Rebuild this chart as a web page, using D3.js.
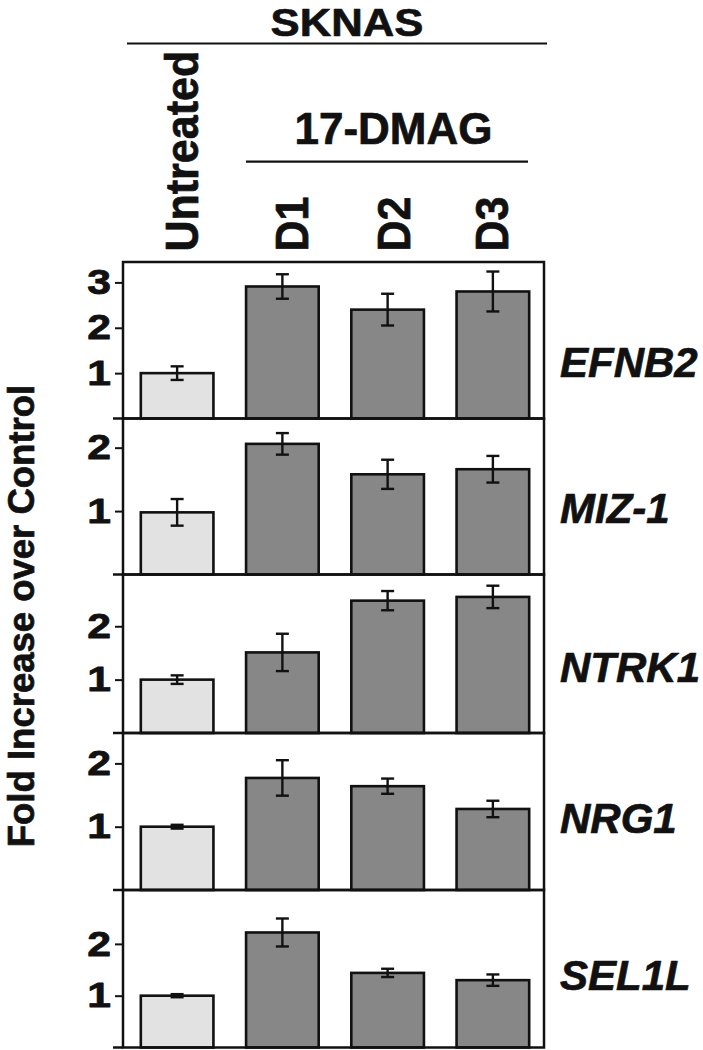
<!DOCTYPE html>
<html><head><meta charset="utf-8">
<script src="https://cdn.jsdelivr.net/npm/d3@7"></script>
<style>body{margin:0;background:#fff}svg{display:block}</style>
</head><body><svg id="c" width="703" height="1050"></svg>
<script>
// ---- data ----
const categories = ["Untreated", "D1", "D2", "D3"];
const genes = ["EFNB2", "MIZ-1", "NTRK1", "NRG1", "SEL1L"];
const meanEFNB2 = [1.00, 2.91, 2.40, 2.80];
const errEFNB2  = [0.15, 0.27, 0.35, 0.44];
const meanMIZ1  = [0.98, 2.06, 1.58, 1.66];
const errMIZ1   = [0.21, 0.17, 0.23, 0.21];
const meanNTRK1 = [1.00, 1.51, 2.48, 2.55];
const errNTRK1  = [0.08, 0.35, 0.18, 0.21];
const meanNRG1  = [1.00, 1.77, 1.64, 1.28];
const errNRG1   = [0.03, 0.28, 0.12, 0.13];
const meanSEL1L = [1.00, 2.22, 1.44, 1.30];
const errSEL1L  = [0.03, 0.27, 0.08, 0.11];
const yMax = [3.45, 2.46, 2.97, 2.48, 3.04];
const tickLabels = [[1, 2, 3], [1, 2], [1, 2], [1, 2], [1, 2]];
const headerTitle = "SKNAS";
const treatmentTitle = "17-DMAG";
const yTitle = "Fold Increase over Control";

const means = [meanEFNB2, meanMIZ1, meanNTRK1, meanNRG1, meanSEL1L];
const errs  = [errEFNB2, errMIZ1, errNTRK1, errNRG1, errSEL1L];

// ---- layout ----
const FONT = "'Liberation Sans', Arial, Helvetica, sans-serif";
const INK = "#111";
const svg = d3.select("#c");
const left = 123, right = 544;
const edges = [262, 418.5, 574.5, 733, 890, 1047.5];
const geneBaseline = [114.7, 104.2, 107.2, 99.7, 100];
const catLabelShift = [4.5, 9, 6, -1];

function heavy(sel, w) {
  return sel.attr("font-family", FONT).attr("font-weight", "bold").attr("fill", INK)
    .attr("stroke", INK).attr("stroke-width", w).attr("stroke-linejoin", "round");
}

const x = d3.scaleBand().domain(categories).range([124.5, 545.5])
  .paddingInner(0.31).paddingOuter(0.155);
const bw = x.bandwidth();

// header
heavy(svg.append("text").attr("transform", "translate(347,36) scale(1.12,1)")
  .attr("text-anchor", "middle").attr("font-size", 39), 0.7).text(headerTitle);
svg.append("line").attr("x1", 127).attr("x2", 547).attr("y1", 43.5).attr("y2", 43.5)
  .attr("stroke", INK).attr("stroke-width", 2.2);
heavy(svg.append("text").attr("transform", "translate(393.5,144)")
  .attr("text-anchor", "middle").attr("font-size", 44), 0.7).text(treatmentTitle);
svg.append("line").attr("x1", 246).attr("x2", 528).attr("y1", 161.7).attr("y2", 161.7)
  .attr("stroke", INK).attr("stroke-width", 2.2);

categories.forEach((c, i) => {
  const bx = x(c) + bw / 2 + 16.5 + catLabelShift[i];
  heavy(svg.append("text").attr("transform", `translate(${bx},251.5) rotate(-90) scale(1,1.07)`)
    .attr("text-anchor", "start").attr("font-size", 43), 0.7).text(c);
});

// y title
heavy(svg.append("text").attr("transform", "translate(34,616) rotate(-90)")
  .attr("text-anchor", "middle").attr("font-size", 36.5), 0.7).text(yTitle);

// panels
genes.forEach((gname, i) => {
  const y = d3.scaleLinear().domain([0, yMax[i]]).range([edges[i + 1], edges[i]]);
  const g = svg.append("g");

  const ax = g.append("g").attr("transform", `translate(${left},0)`)
    .call(d3.axisLeft(y).tickValues(tickLabels[i]).tickSize(8).tickPadding(4).tickFormat(d3.format("d")));
  ax.select(".domain").remove();
  ax.selectAll(".tick line").attr("stroke", INK).attr("stroke-width", 2);
  heavy(ax.selectAll(".tick text"), 0.8)
    .attr("font-size", 35)
    .attr("x", -12 / 1.22).attr("transform", "scale(1.22,1)");

  const data = categories.map((c, j) => ({ c, v: means[i][j], e: errs[i][j], j }));
  g.selectAll("rect.bar").data(data).join("rect").attr("class", "bar")
    .attr("x", d => x(d.c)).attr("width", bw)
    .attr("y", d => y(d.v)).attr("height", d => y(0) - y(d.v))
    .attr("fill", d => d.j === 0 ? "#e2e2e2" : "#878787")
    .attr("stroke", INK).attr("stroke-width", 2.6);

  const eb = g.selectAll("g.err").data(data).join("g").attr("class", "err")
    .attr("stroke", INK).attr("stroke-width", 2.4);
  eb.append("line").attr("x1", d => x(d.c) + bw / 2).attr("x2", d => x(d.c) + bw / 2)
    .attr("y1", d => y(d.v - d.e)).attr("y2", d => y(d.v + d.e));
  eb.append("line").attr("x1", d => x(d.c) + bw / 2 - 6.5).attr("x2", d => x(d.c) + bw / 2 + 6.5)
    .attr("y1", d => y(d.v + d.e)).attr("y2", d => y(d.v + d.e));
  eb.append("line").attr("x1", d => x(d.c) + bw / 2 - 6.5).attr("x2", d => x(d.c) + bw / 2 + 6.5)
    .attr("y1", d => y(d.v - d.e)).attr("y2", d => y(d.v - d.e));

  g.append("rect").attr("x", left).attr("y", edges[i]).attr("width", right - left)
    .attr("height", edges[i + 1] - edges[i]).attr("fill", "none")
    .attr("stroke", INK).attr("stroke-width", 2.5);
  g.append("line").attr("x1", 113).attr("x2", left).attr("y1", y(0)).attr("y2", y(0))
    .attr("stroke", INK).attr("stroke-width", 2.5);

  heavy(g.append("text").attr("x", 560).attr("y", edges[i] + geneBaseline[i])
    .attr("font-style", "italic").attr("font-size", 42), 0.7).text(gname);
});
</script></body></html>
